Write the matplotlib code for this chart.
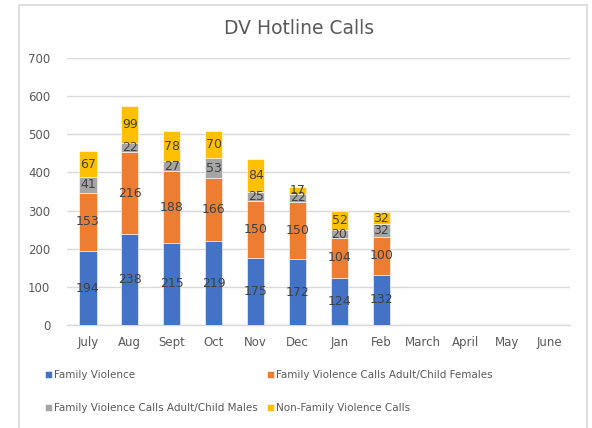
"""
DV hotline calls, stacked columns by call type.
"""

import matplotlib
matplotlib.use("Agg")
import matplotlib.pyplot as plt
import numpy as np
from matplotlib.patches import Rectangle

months = ["July", "Aug", "Sept", "Oct", "Nov", "Dec", "Jan", "Feb",
          "March", "April", "May", "June"]
family_violence = [194, 238, 215, 219, 175, 172, 124, 132]
fv_females = [153, 216, 188, 166, 150, 150, 104, 100]
fv_males = [41, 22, 27, 53, 25, 22, 20, 32]
non_fv = [67, 99, 78, 70, 84, 17, 52, 32]

series = [
    ("Family Violence", family_violence, "#4472c4"),
    ("Family Violence Calls Adult/Child Females", fv_females, "#ed7d31"),
    ("Family Violence Calls Adult/Child Males", fv_males, "#a5a5a5"),
    ("Non-Family Violence Calls", non_fv, "#ffc000"),
]

TEXT = "#595959"
LABEL = "#404040"

plt.rcParams["font.family"] = ["DejaVu Sans"]

fig = plt.figure(figsize=(5.92, 4.28), dpi=100)
fig.patches.append(Rectangle((19 / 592, -0.01), 568 / 592, 1 - 5 / 428 + 0.01,
                             transform=fig.transFigure, fill=False,
                             edgecolor="#d9d9d9", lw=1.2))
ax = fig.add_axes([67 / 592, 1 - 325 / 428, 503 / 592, 267 / 428])

x = np.arange(len(months))
n = len(family_violence)
bottom = np.zeros(n)
handles = {}
for name, vals, color in series:
    vals = np.array(vals, dtype=float)
    bars = ax.bar(x[:n], vals, width=0.41, bottom=bottom, color=color,
                  edgecolor="white", linewidth=0.4, label=name, zorder=3)
    handles[name] = bars
    for xi, b, v in zip(x[:n], bottom, vals):
        ax.text(xi, b + v / 2, f"{int(v)}", ha="center", va="center",
                fontsize=9, color=LABEL, zorder=4)
    bottom += vals

ax.set_xlim(-0.5, len(months) - 0.5)
ax.set_ylim(0, 700)
ax.set_yticks(range(0, 701, 100))
ax.set_xticks(x)
ax.set_xticklabels(months)
ax.tick_params(axis="both", length=0, colors=TEXT, labelsize=8.5)
ax.tick_params(axis="x", pad=8)
ax.tick_params(axis="y", pad=12)
ax.grid(axis="y", color="#d9d9d9", lw=1, zorder=0)
for s in ["top", "right", "left"]:
    ax.spines[s].set_visible(False)
ax.spines["bottom"].set_color("#d9d9d9")
ax.spines["bottom"].set_linewidth(1)

fig.text(0.505, 1 - 28 / 428, "DV Hotline Calls", ha="center", va="center",
         fontsize=13.5, color=TEXT)

order = ["Family Violence", "Family Violence Calls Adult/Child Males",
         "Family Violence Calls Adult/Child Females", "Non-Family Violence Calls"]
leg = fig.legend([handles[k] for k in order], order, ncol=2,
                 loc="upper left", bbox_to_anchor=(36 / 592, 1 - 361 / 428),
                 frameon=False, fontsize=7.5, handlelength=0.6, handleheight=0.6,
                 handletextpad=0.25, labelspacing=2.2, columnspacing=0.9,
                 labelcolor=TEXT)

fig.savefig("out.png", dpi=100)
